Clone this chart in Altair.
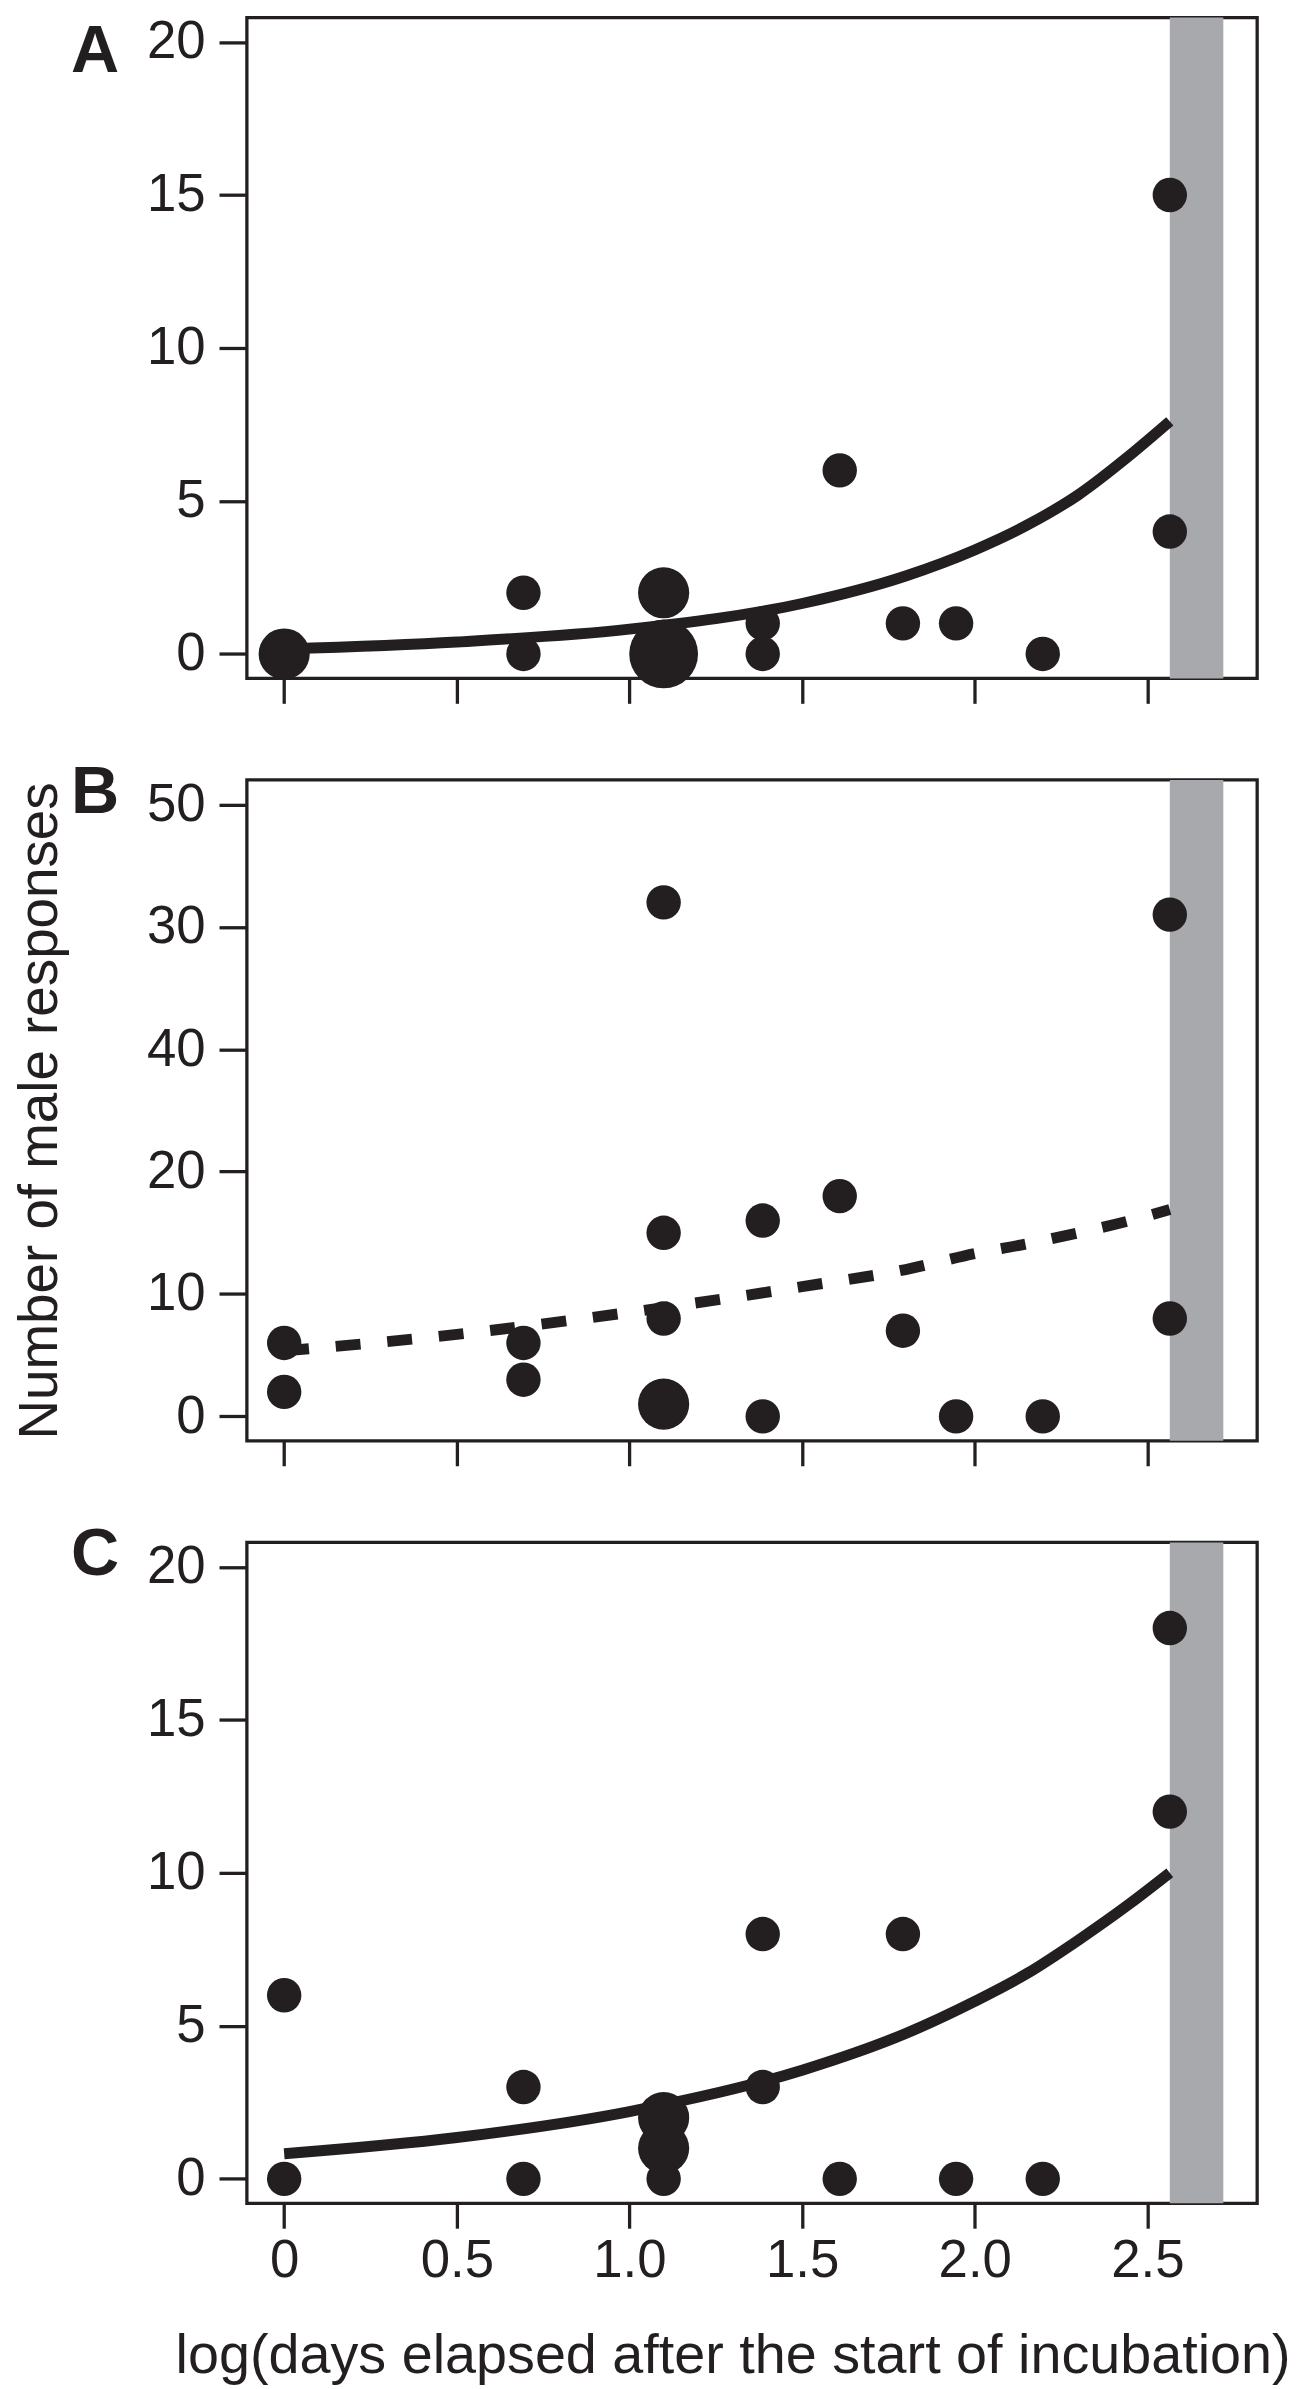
import altair as alt
import pandas as pd

# ---------------- data ----------------
panel_letters = ["A", "B", "C"]

# x = log(days elapsed after the start of incubation)
a_x = [0.0, 0.693, 0.693, 1.099, 1.099, 1.386, 1.386, 1.609, 1.792, 1.946, 2.197, 2.565, 2.565]
a_y = [0, 2, 0, 2, 0, 1, 0, 6, 1, 1, 0, 15, 4]
a_n = [2, 1, 1, 2, 3, 1, 1, 1, 1, 1, 1, 1, 1]

b_x = [0.0, 0.0, 0.693, 0.693, 1.099, 1.099, 1.099, 1.099, 1.386, 1.386, 1.609, 1.792, 1.946, 2.197, 2.565, 2.565]
b_y = [6, 2, 6, 3, 42, 15, 8, 1, 16, 0, 18, 7, 0, 0, 41, 8]
b_n = [1, 1, 1, 1, 1, 1, 1, 2, 1, 1, 1, 1, 1, 1, 1, 1]

c_x = [0.0, 0.0, 0.693, 0.693, 1.099, 1.099, 1.099, 1.386, 1.386, 1.609, 1.792, 1.946, 2.197, 2.565, 2.565]
c_y = [6, 0, 3, 0, 2, 1, 0, 8, 3, 0, 8, 0, 0, 18, 12]
c_n = [1, 1, 1, 1, 2, 2, 1, 1, 1, 1, 1, 1, 1, 1, 1]

# fitted curves
fit_x = [0.0, 0.5, 1.0, 1.5, 1.8, 2.0, 2.15, 2.3, 2.45, 2.565]
fit_a = [0.16, 0.39, 0.81, 1.65, 2.55, 3.4, 4.2, 5.2, 6.5, 7.6]
fit_b = [5.35, 6.7, 8.5, 10.6, 12.0, 13.3, 14.1, 15.0, 16.0, 16.9]
fit_c = [0.82, 1.35, 2.2, 3.55, 4.75, 5.8, 6.7, 7.8, 9.0, 10.0]

# grey band
band_start = [2.565]
band_end = [2.72]

# axes
x_ticks = [0, 0.5, 1.0, 1.5, 2.0, 2.5]
x_tick_labels = ["0", "0.5", "1.0", "1.5", "2.0", "2.5"]
y_ticks_20 = [0, 5, 10, 15, 20]
y_ticks_50 = [0, 10, 20, 30, 40, 50]
y_tick_labels_50 = ["0", "10", "20", "40", "30", "50"]

x_title = "log(days elapsed after the start of incubation)"
y_title = "Number of male responses"

# ---------------- styling ----------------
INK = "#231f20"
GREY = "#a7a9ac"
FONT = "Liberation Sans"
W, H = 1015, 664


def js_list(vals):
    return "[" + ",".join(repr(v) for v in vals) + "]"


def panel(xs, ys, ns, fy, letter, letter_y, ydom, yticks, ylabels, dashed, last, ytitle):
    pts = pd.DataFrame({"x": xs, "y": ys, "n": ns})
    fit = pd.DataFrame({"x": fit_x, "y": fy})
    band = pd.DataFrame({"x": band_start, "x2": band_end})
    lab = pd.DataFrame({"label": [letter]})

    xscale = alt.Scale(domain=[-0.108, 2.818], nice=False, zero=False)
    yscale = alt.Scale(domain=ydom, nice=False, zero=False)

    xaxis_kw = dict(
        values=x_ticks, tickSize=25, tickWidth=3.3, tickColor=INK,
        domain=False, grid=False, labelFlush=False,
    )
    if last:
        xaxis_kw.update(
            labels=True,
            labelExpr=js_list(x_tick_labels) + "[indexof(" + js_list(x_ticks) + ", datum.value)]",
            labelFontSize=53, labelPadding=7, labelColor=INK, labelFont=FONT,
            titleFontSize=56, titleFont=FONT, titleFontWeight="normal", titleColor=INK,
            titleX=488, titleY=170, titleBaseline="alphabetic", titleAlign="center",
        )
        x_enc = alt.X("x:Q", scale=xscale, axis=alt.Axis(**xaxis_kw), title=x_title)
    else:
        xaxis_kw.update(labels=False)
        x_enc = alt.X("x:Q", scale=xscale, axis=alt.Axis(**xaxis_kw), title=None)

    yaxis_kw = dict(
        values=yticks, tickSize=28, tickWidth=3.3, tickColor=INK,
        domain=False, grid=False, labelFontSize=53, labelPadding=14,
        labelColor=INK, labelFont=FONT,
        labelExpr=js_list(ylabels) + "[indexof(" + js_list(yticks) + ", datum.value)]",
    )
    if ytitle:
        yaxis_kw.update(
            titleFontSize=55, titleFont=FONT, titleFontWeight="normal", titleColor=INK,
            titleAngle=270, titleX=-208, titleY=H / 2, titleBaseline="middle",
            titleAlign="center",
        )
        y_enc = alt.Y("y:Q", scale=yscale, axis=alt.Axis(**yaxis_kw), title=ytitle)
    else:
        y_enc = alt.Y("y:Q", scale=yscale, axis=alt.Axis(**yaxis_kw), title=None)

    band_layer = alt.Chart(band).mark_rect(color=GREY).encode(
        x=x_enc, x2="x2:Q", y=alt.value(0), y2=alt.value(H)
    )
    line_kw = dict(color=INK, strokeWidth=11, interpolate="monotone", strokeCap="butt")
    if dashed:
        line_kw["strokeDash"] = [25, 27]
    line_layer = alt.Chart(fit).mark_line(**line_kw).encode(x=x_enc, y=y_enc)
    pt_layer = alt.Chart(pts).mark_circle(color=INK, opacity=1).encode(
        x=x_enc, y=y_enc,
        size=alt.Size("n:Q", scale=alt.Scale(domain=[1, 2, 3], range=[1195, 2640, 4780]),
                      legend=None),
    )
    txt_layer = alt.Chart(lab).mark_text(
        font=FONT, fontSize=67, fontWeight="bold", align="center",
        baseline="alphabetic", color=INK,
    ).encode(text="label:N", x=alt.value(-152.5), y=alt.value(letter_y))

    return alt.layer(band_layer, line_layer, pt_layer, txt_layer).properties(width=W, height=H)


pa = panel(a_x, a_y, a_n, fit_a, panel_letters[0], 54.7, [-0.8, 20.8], y_ticks_20,
           [str(v) for v in y_ticks_20], False, False, None)
pb = panel(b_x, b_y, b_n, fit_b, panel_letters[1], 33, [-2, 52], y_ticks_50,
           y_tick_labels_50, True, False, y_title)
pc = panel(c_x, c_y, c_n, fit_c, panel_letters[2], 33, [-0.8, 20.8], y_ticks_20,
           [str(v) for v in y_ticks_20], False, True, None)

chart = (
    alt.vconcat(pa, pb, pc, spacing=102, bounds="flush")
    .configure(background="white", padding={"left": 3, "top": 0, "right": 0, "bottom": 0})
    .configure_view(stroke=INK, strokeWidth=3.3)
)

chart.save("out.html", embed_options={"renderer": "svg", "actions": False})
